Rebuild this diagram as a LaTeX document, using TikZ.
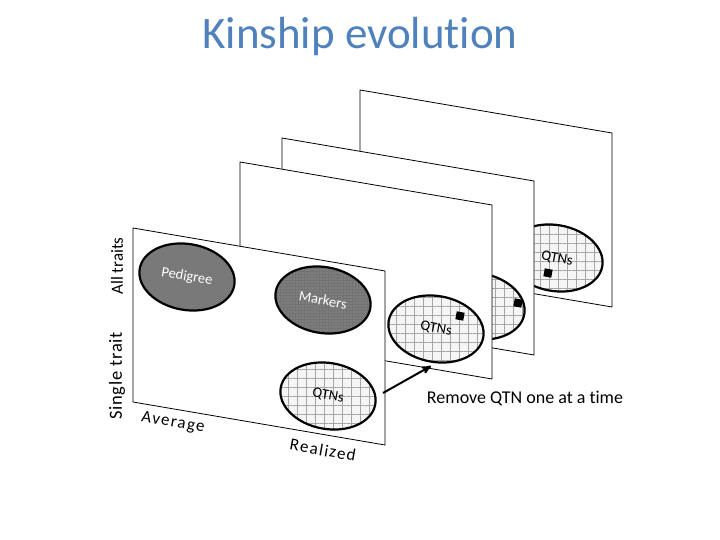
\documentclass[tikz,border=0pt]{standalone}
\usepackage{fontspec}
\setmainfont[Ligatures=NoCommon]{Carlito}
\usepackage{xcolor}
\usetikzlibrary{arrows,calc,positioning}
\usetikzlibrary{shapes.geometric,patterns.meta}
\definecolor{titleblue}{HTML}{4F81BD}

\begin{document}
\begin{tikzpicture}[x=1pt,y=-1pt,>=stealth',semithick]
	\tikzstyle{panel}=[draw=black, fill=white, line width=0.8pt]
	\tikzstyle{blob}=[draw, ellipse, line width=2.2pt, minimum width=96pt, minimum height=66pt, inner sep=0pt, rotate=-10, font=\fontsize{14.5}{15}\selectfont]
	\tikzstyle{pedi}=[blob, fill=gray!95!black, text=white]
	\tikzstyle{mrkblob}=[blob, preaction={fill=gray!90!black}, pattern={Dots[distance=3pt,radius=0.45pt]}, pattern color=white, text=white]
	\tikzstyle{qtn}=[blob, preaction={fill=gray!8}, pattern={Hatch[angle=0,distance=9pt,line width=0.5pt]}, pattern color=gray!70]
	\tikzstyle{pick}=[fill=black, minimum size=8pt, inner sep=0pt, rotate=-10]
	\tikzstyle{side}=[rotate=90, font=\fontsize{17}{17}\selectfont]
	\tikzstyle{axis}=[rotate=-10, font=\fontsize{17}{17}\selectfont\addfontfeatures{LetterSpace=8}]
	\useasboundingbox (0,0) rectangle (720,540);

	\node[font=\fontsize{45}{45}\selectfont, text=titleblue] (title) at (360,37) {Kinship evolution};

	% back panel
	\draw[panel] (360,90) -- ++(252,43) -- ++(0,174) -- ++(-252,-43) -- cycle;
	\node[qtn] (q4) at (555,258) {};
	\node[pick] (p4) at (548,273) {};
	\node[rotate=-10, font=\fontsize{14.5}{15}\selectfont] (t4) at (557,259) {QTNs};

	\draw[panel] (282,138) -- ++(252,43) -- ++(0,174) -- ++(-252,-43) -- cycle;
	\node[qtn] (q3) at (477,306) {};
	\node[pick] (p3) at (518,303) {};

	\draw[panel] (240,162) -- ++(252,43) -- ++(0,174) -- ++(-252,-43) -- cycle;
	\node[qtn] (q2) at (436,329) {QTNs};
	\node[pick] (p2) at (460,316) {};

	% front panel
	\draw[panel] (133,228) -- ++(252,43) -- ++(0,174) -- ++(-252,-43) -- cycle;
	\node[pedi] (ped) at (187,277) {Pedigree};
	\node[mrkblob] (mrk) at (323,300) {Markers};
	\node[qtn] (q1) at (328,396) {QTNs};
	\node[axis] (avg) at (173,423) {Average};
	\node[axis] (real) at (323,450) {Realized};

	\node[side] (all) at (117,266) {All traits};
	\node[side] (single) at (117,376) {\fontsize{18.5}{18.5}\selectfont\addfontfeatures{LetterSpace=4}Single trait};

	\coordinate (arrS) at (383,393);
	\coordinate (arrE) at (431,366);
	\path (arrS) edge[->, line width=2pt] (arrE);
	\node[font=\fontsize{18}{18}\selectfont] (rm) at (525,398) {Remove QTN one at a time};
\end{tikzpicture}
\end{document}
